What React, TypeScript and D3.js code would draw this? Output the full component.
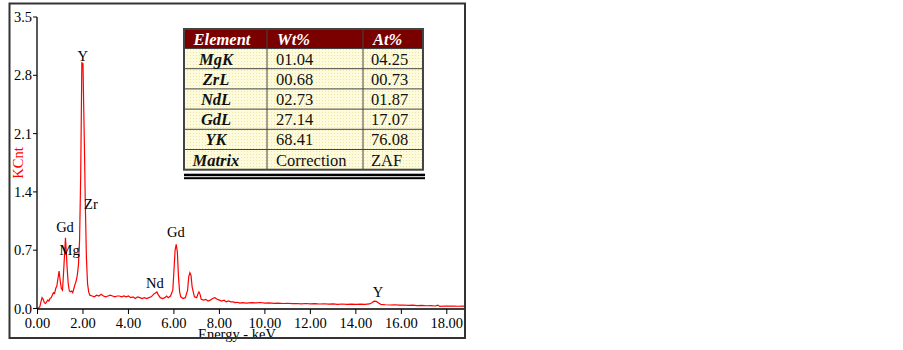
import React from "react";
import * as d3 from "d3";

// Spectrum (keV, KCnt)
const energy = [
  0.0, 0.05, 0.1, 0.15, 0.2, 0.25, 0.3, 0.35, 0.4, 0.45, 0.5, 0.55, 0.6, 0.65, 0.7, 0.75, 0.8, 0.85, 0.9, 0.95,
  1.0, 1.05, 1.1, 1.15, 1.2, 1.23, 1.27, 1.3, 1.35, 1.4, 1.45, 1.5, 1.55, 1.6, 1.65, 1.7, 1.75, 1.8, 1.85, 1.9,
  1.95, 2.0, 2.03, 2.06, 2.1, 2.15, 2.2, 2.25, 2.3, 2.4, 2.5, 2.6, 2.7, 2.8, 2.9, 3.0, 3.1, 3.2, 3.3, 3.4,
  3.5, 3.6, 3.7, 3.8, 3.9, 4.0, 4.1, 4.2, 4.3, 4.4, 4.5, 4.6, 4.7, 4.8, 4.9, 5.0, 5.1, 5.2, 5.25, 5.3,
  5.4, 5.5, 5.6, 5.68, 5.75, 5.85, 5.95, 6.0, 6.05, 6.1, 6.15, 6.2, 6.25, 6.3, 6.4, 6.5, 6.6, 6.65, 6.7, 6.75,
  6.8, 6.9, 7.0, 7.05, 7.1, 7.15, 7.2, 7.3, 7.4, 7.5, 7.6, 7.7, 7.8, 7.9, 8.0, 8.1, 8.2, 8.3, 8.4, 8.5,
  8.6, 8.7, 8.8, 8.9, 9.0, 9.2, 9.4, 9.6, 9.8, 10.0, 10.2, 10.4, 10.6, 10.8, 11.0, 11.2, 11.4, 11.6, 11.8, 12.0,
  12.2, 12.4, 12.6, 12.8, 13.0, 13.2, 13.4, 13.6, 13.8, 14.0, 14.2, 14.4, 14.6, 14.7, 14.8, 14.9, 15.0, 15.1, 15.3, 15.5,
  15.7, 15.9, 16.1, 16.3, 16.5, 16.7, 16.9, 17.1, 17.3, 17.5, 17.6, 17.7, 17.9, 18.1, 18.3, 18.5, 18.7, 18.8,
];
const counts = [
  0.0, 0.01, 0.02, 0.08, 0.13, 0.11, 0.07, 0.06, 0.08, 0.1, 0.09, 0.12, 0.13, 0.16, 0.19, 0.18, 0.24, 0.27, 0.36, 0.45,
  0.33, 0.24, 0.22, 0.45, 0.7, 0.85, 0.66, 0.5, 0.3, 0.21, 0.2, 0.21, 0.19, 0.24, 0.29, 0.33, 0.4, 0.52, 0.82, 1.6,
  2.95, 2.94, 2.45, 2.0, 1.3, 0.62, 0.3, 0.2, 0.16, 0.15, 0.14, 0.16, 0.15, 0.17, 0.15, 0.14, 0.15, 0.16, 0.15, 0.14,
  0.15, 0.15, 0.14, 0.15, 0.14, 0.15, 0.13, 0.14, 0.12, 0.14, 0.13, 0.12, 0.13, 0.12, 0.13, 0.14, 0.17, 0.19, 0.2, 0.17,
  0.13, 0.12, 0.13, 0.15, 0.13, 0.15, 0.22, 0.45, 0.7, 0.77, 0.68, 0.38, 0.2, 0.14, 0.12, 0.13, 0.22, 0.38, 0.43, 0.4,
  0.26, 0.14, 0.13, 0.17, 0.2, 0.17, 0.11, 0.1, 0.11, 0.09, 0.1, 0.12, 0.13, 0.11, 0.1, 0.09, 0.1, 0.08, 0.09, 0.08,
  0.08, 0.07, 0.075, 0.065, 0.07, 0.065, 0.07, 0.068, 0.072, 0.065, 0.068, 0.062, 0.065, 0.06, 0.063, 0.058, 0.06, 0.056, 0.06, 0.055,
  0.058, 0.054, 0.057, 0.052, 0.055, 0.05, 0.054, 0.05, 0.053, 0.05, 0.052, 0.05, 0.055, 0.07, 0.088, 0.085, 0.065, 0.05, 0.045, 0.042,
  0.045, 0.04, 0.042, 0.038, 0.04, 0.035, 0.037, 0.033, 0.035, 0.03, 0.04, 0.025, 0.03, 0.028, 0.03, 0.027, 0.028, 0.028,
];

const yTicks = [0.0, 0.7, 1.4, 2.1, 2.8, 3.5];
const xTicks = [0, 2, 4, 6, 8, 10, 12, 14, 16, 18];

const peakLabels = [
  { text: "Y", e: 1.99, v: 2.97 },
  { text: "Zr", e: 2.35, v: 1.2 },
  { text: "Gd", e: 1.21, v: 0.92 },
  { text: "Mg", e: 1.41, v: 0.64 },
  { text: "Nd", e: 5.16, v: 0.246 },
  { text: "Gd", e: 6.09, v: 0.86 },
  { text: "Y", e: 14.97, v: 0.142 },
];

const tableHeader = ["Element", "Wt%", "At%"];
const tableElements = ["MgK", "ZrL", "NdL", "GdL", "YK", "Matrix"];
const tableWt = ["01.04", "00.68", "02.73", "27.14", "68.41", "Correction"];
const tableAt = ["04.25", "00.73", "01.87", "17.07", "76.08", "ZAF"];

const FONT = "'Liberation Serif', 'Times New Roman', serif";

export default function App() {
  const x = d3.scaleLinear().domain([0, 18.8]).range([37.5, 465]);
  const y = d3.scaleLinear().domain([0, 3.5]).range([308.5, 17]);
  const pts: [number, number][] = energy.map((e, i) => [e, counts[i]]);
  const line = d3
    .line<[number, number]>()
    .x((d) => x(d[0]))
    .y((d) => y(d[1]));

  // table geometry
  const tx = 184;
  const colX = [184, 267, 363, 423];
  const ty = 29;
  const hh = 19.5;
  const rh = 20.2;
  const rows = tableElements.length;
  const tBottom = ty + hh + rows * rh;

  return (
    <svg
      width={903}
      height={350}
      style={{ position: "absolute", left: 0, top: 0, background: "#fff" }}
    >
      <defs>
        <pattern id="dots" width="3" height="3" patternUnits="userSpaceOnUse">
          <rect width="3" height="3" fill="#fdfbdc" />
          <rect x="1" y="1" width="1" height="1" fill="#ece6a4" />
        </pattern>
      </defs>

      {/* spectrum */}
      <path d={line(pts) ?? ""} fill="none" stroke="#ff0000" strokeWidth={1.2} />

      {/* axes */}
      <line x1={37} x2={37} y1={17} y2={309} stroke="#000" strokeWidth={1.3} />
      <line x1={37} x2={465} y1={309} y2={309} stroke="#000" strokeWidth={1.5} />
      {yTicks.map((t) => (
        <g key={"y" + t}>
          <line x1={33} x2={37} y1={y(t)} y2={y(t)} stroke="#000" strokeWidth={1} />
          <text
            x={32}
            y={y(t)}
            dy="0.35em"
            textAnchor="end"
            fontFamily={FONT}
            fontSize={14.5}
            fill="#000"
          >
            {t.toFixed(1)}
          </text>
        </g>
      ))}
      {xTicks.map((t) => (
        <g key={"x" + t}>
          <line x1={x(t)} x2={x(t)} y1={309} y2={314} stroke="#000" strokeWidth={1} />
          <text
            x={x(t)}
            y={328}
            textAnchor="middle"
            fontFamily={FONT}
            fontSize={14.5}
            fill="#000"
          >
            {t.toFixed(2)}
          </text>
        </g>
      ))}
      <text x={237} y={339} textAnchor="middle" fontFamily={FONT} fontSize={14.5} fill="#000">
        Energy - keV
      </text>
      <text
        transform="translate(23,163) rotate(-90)"
        textAnchor="middle"
        fontFamily={FONT}
        fontSize={14.5}
        fill="#ff0000"
      >
        KCnt
      </text>

      {/* peak labels */}
      {peakLabels.map((p, i) => (
        <text
          key={"p" + i}
          x={x(p.e)}
          y={y(p.v)}
          textAnchor="middle"
          fontFamily={FONT}
          fontSize={14.5}
          fill="#000"
        >
          {p.text}
        </text>
      ))}

      {/* table */}
      <rect x={tx} y={ty} width={colX[3] - tx} height={hh} fill="#7a0000" />
      <rect x={tx} y={ty + hh} width={colX[3] - tx} height={rows * rh} fill="url(#dots)" />
      {tableElements.map((_, i) => (
        <line
          key={"rl" + i}
          x1={tx}
          x2={colX[3]}
          y1={ty + hh + i * rh}
          y2={ty + hh + i * rh}
          stroke="#444"
          strokeWidth={1}
        />
      ))}
      {[colX[1], colX[2]].map((cx) => (
        <line key={"cl" + cx} x1={cx} x2={cx} y1={ty} y2={tBottom} stroke="#444" strokeWidth={1} />
      ))}
      <rect
        x={tx}
        y={ty}
        width={colX[3] - tx}
        height={tBottom - ty}
        fill="none"
        stroke="#444"
        strokeWidth={2}
      />
      {tableHeader.map((h, i) => (
        <text
          key={"h" + i}
          x={i === 0 ? 222 : colX[i] + 10}
          y={ty + hh / 2}
          dy="0.36em"
          textAnchor={i === 0 ? "middle" : "start"}
          fontFamily={FONT}
          fontSize={16.5}
          fontWeight="bold"
          fontStyle="italic"
          fill="#fff"
        >
          {h}
        </text>
      ))}
      {tableElements.map((el, i) => {
        const cy = ty + hh + i * rh + rh / 2;
        return (
          <g key={"r" + i}>
            <text
              x={216}
              y={cy}
              dy="0.36em"
              textAnchor="middle"
              fontFamily={FONT}
              fontSize={16.5}
              fontWeight="bold"
              fontStyle="italic"
              fill="#111"
            >
              {el}
            </text>
            <text x={colX[1] + 9} y={cy} dy="0.36em" fontFamily={FONT} fontSize={16.5} fill="#111">
              {tableWt[i]}
            </text>
            <text x={colX[2] + 8} y={cy} dy="0.36em" fontFamily={FONT} fontSize={16.5} fill="#111">
              {tableAt[i]}
            </text>
          </g>
        );
      })}
      <rect x={tx} y={tBottom + 4} width={colX[3] - tx + 2} height={2.5} fill="#000" />
      <rect x={tx} y={tBottom + 7.5} width={colX[3] - tx + 2} height={2} fill="#000" />

      {/* outer frame drawn last, so it crosses the axis title like the reference */}
      <rect x={9.5} y={3.5} width={455.5} height={334.5} fill="none" stroke="#333" strokeWidth={2} />
    </svg>
  );
}
